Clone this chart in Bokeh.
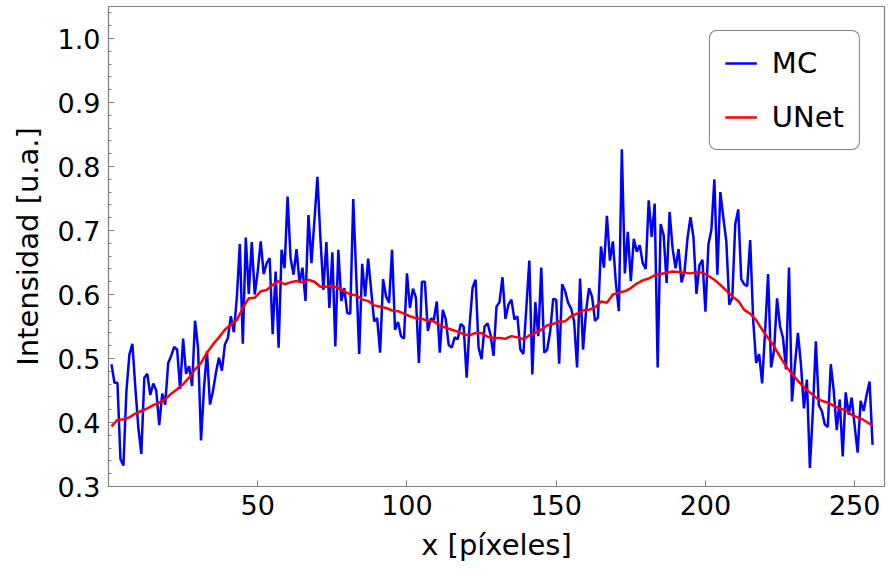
from bokeh.plotting import figure
from bokeh.models import Range1d, FixedTicker, Legend, LegendItem, PrintfTickFormatter
from bokeh.embed import file_html
from bokeh.resources import INLINE

# ---- data ----
mc_x = list(range(1, 257))
mc_y = [
    0.491, 0.462, 0.462, 0.343, 0.333, 0.449, 0.506, 0.523, 0.454, 0.392,
    0.351, 0.470, 0.476, 0.443, 0.461, 0.450, 0.396, 0.445, 0.428, 0.493,
    0.504, 0.518, 0.514, 0.452, 0.531, 0.476, 0.488, 0.457, 0.559, 0.517,
    0.372, 0.454, 0.511, 0.428, 0.449, 0.478, 0.501, 0.481, 0.522, 0.532,
    0.566, 0.541, 0.595, 0.679, 0.523, 0.689, 0.601, 0.682, 0.600, 0.636,
    0.683, 0.632, 0.649, 0.657, 0.538, 0.636, 0.517, 0.670, 0.641, 0.753,
    0.657, 0.631, 0.671, 0.618, 0.642, 0.590, 0.724, 0.649, 0.716, 0.784,
    0.688, 0.607, 0.682, 0.579, 0.666, 0.519, 0.670, 0.590, 0.610, 0.571,
    0.570, 0.749, 0.630, 0.507, 0.648, 0.597, 0.656, 0.607, 0.558, 0.563,
    0.509, 0.624, 0.597, 0.587, 0.670, 0.545, 0.557, 0.535, 0.531, 0.633,
    0.579, 0.609, 0.595, 0.493, 0.620, 0.620, 0.543, 0.562, 0.561, 0.589,
    0.509, 0.576, 0.561, 0.521, 0.517, 0.533, 0.530, 0.554, 0.550, 0.470,
    0.553, 0.611, 0.623, 0.517, 0.499, 0.550, 0.555, 0.537, 0.504, 0.581,
    0.588, 0.627, 0.562, 0.584, 0.592, 0.561, 0.566, 0.514, 0.507, 0.579,
    0.653, 0.475, 0.588, 0.535, 0.642, 0.509, 0.514, 0.543, 0.593, 0.592,
    0.492, 0.616, 0.605, 0.587, 0.578, 0.558, 0.486, 0.625, 0.514, 0.574,
    0.610, 0.597, 0.559, 0.564, 0.675, 0.642, 0.723, 0.653, 0.683, 0.618,
    0.574, 0.827, 0.633, 0.698, 0.621, 0.687, 0.667, 0.677, 0.649, 0.640,
    0.747, 0.690, 0.742, 0.486, 0.710, 0.693, 0.618, 0.729, 0.672, 0.641,
    0.671, 0.619, 0.636, 0.688, 0.721, 0.689, 0.601, 0.646, 0.654, 0.573,
    0.678, 0.701, 0.780, 0.631, 0.760, 0.720, 0.683, 0.584, 0.595, 0.710,
    0.733, 0.624, 0.616, 0.613, 0.685, 0.560, 0.493, 0.507, 0.461, 0.543,
    0.632, 0.486, 0.513, 0.594, 0.550, 0.532, 0.483, 0.642, 0.433, 0.491,
    0.540, 0.491, 0.422, 0.467, 0.329, 0.418, 0.527, 0.427, 0.418, 0.397,
    0.393, 0.491, 0.449, 0.388, 0.436, 0.347, 0.447, 0.412, 0.439, 0.395,
    0.353, 0.434, 0.418, 0.443, 0.464, 0.365,
]

unet_x = list(range(1, 256, 2)) + [256]
unet_y = [
    0.394, 0.404, 0.405, 0.408, 0.414, 0.418, 0.422, 0.427, 0.431, 0.436,
    0.445, 0.452, 0.460, 0.470, 0.483, 0.493, 0.509, 0.522, 0.533, 0.545,
    0.553, 0.560, 0.579, 0.594, 0.595, 0.605, 0.607, 0.615, 0.621, 0.616,
    0.619, 0.621, 0.619, 0.623, 0.620, 0.612, 0.612, 0.614, 0.610, 0.605,
    0.600, 0.599, 0.592, 0.590, 0.583, 0.581, 0.579, 0.575, 0.574, 0.570,
    0.566, 0.563, 0.562, 0.559, 0.558, 0.552, 0.548, 0.545, 0.542, 0.538,
    0.536, 0.540, 0.540, 0.534, 0.532, 0.532, 0.531, 0.535, 0.533, 0.530,
    0.536, 0.540, 0.545, 0.552, 0.554, 0.558, 0.558, 0.566, 0.570, 0.575,
    0.576, 0.580, 0.589, 0.587, 0.600, 0.603, 0.605, 0.610, 0.617, 0.622,
    0.625, 0.630, 0.632, 0.634, 0.636, 0.635, 0.634, 0.633, 0.635, 0.634,
    0.629, 0.623, 0.615, 0.606, 0.597, 0.590, 0.576, 0.570, 0.560, 0.545,
    0.532, 0.519, 0.503, 0.488, 0.476, 0.465, 0.455, 0.447, 0.439, 0.434,
    0.431, 0.426, 0.422, 0.419, 0.412, 0.408, 0.404, 0.398, 0.395,
]

x_ticks = [50, 100, 150, 200, 250]
y_ticks = [0.3, 0.4, 0.5, 0.6, 0.7, 0.8, 0.9, 1.0]
y_minor = [round(0.3 + 0.02 * i, 2) for i in range(38)]

FONT = "DejaVu Sans"
AXIS_COLOR = "#7f7f7f"

p = figure(
    width=888, height=578,
    output_backend="svg", toolbar_location=None,
    x_range=Range1d(0, 260), y_range=Range1d(0.3, 1.05),
    min_border_left=108, min_border_right=4,
    min_border_top=6, min_border_bottom=92,
)
p.grid.visible = False
p.outline_line_color = AXIS_COLOR
p.outline_line_width = 1.2
p.background_fill_color = "white"
p.border_fill_color = "white"

r_mc = p.line(mc_x, mc_y, line_color="#0000ff", line_width=2.5)
r_un = p.line(unet_x, unet_y, line_color="#ff0000", line_width=2.5)

p.xaxis.ticker = FixedTicker(ticks=x_ticks, minor_ticks=[])
p.yaxis.ticker = FixedTicker(ticks=y_ticks, minor_ticks=y_minor)
p.yaxis.formatter = PrintfTickFormatter(format="%.1f")

for ax in (p.xaxis, p.yaxis):
    ax.axis_line_color = AXIS_COLOR
    ax.major_tick_line_color = AXIS_COLOR
    ax.minor_tick_line_color = AXIS_COLOR
    ax.major_tick_in = 6
    ax.major_tick_out = 0
    ax.minor_tick_in = 3
    ax.minor_tick_out = 0
    ax.major_label_text_font = FONT
    ax.major_label_text_font_size = "27px"
    ax.major_label_text_color = "black"
    ax.axis_label_text_font = FONT
    ax.axis_label_text_font_size = "29px"
    ax.axis_label_text_font_style = "normal"
    ax.axis_label_text_color = "black"
    ax.major_label_standoff = 8
    ax.axis_label_standoff = 10

p.xaxis.axis_label = "x [píxeles]"
p.yaxis.axis_label = "Intensidad [u.a.]"

legend = Legend(
    items=[LegendItem(label="MC", renderers=[r_mc]),
           LegendItem(label="UNet", renderers=[r_un])],
    location="top_right",
    padding=15,
    spacing=20,
    glyph_width=32, glyph_height=34,
    label_height=34, label_standoff=15,
    label_text_font=FONT, label_text_font_size="29px",
    label_text_color="black",
    border_line_color="black", border_line_width=1.5,
    background_fill_alpha=1.0,
)
if "border_radius" in Legend.properties():
    legend.border_radius = 8
p.add_layout(legend, "center")
legend.margin = 24

open("out.html", "w").write(file_html(p, INLINE))
